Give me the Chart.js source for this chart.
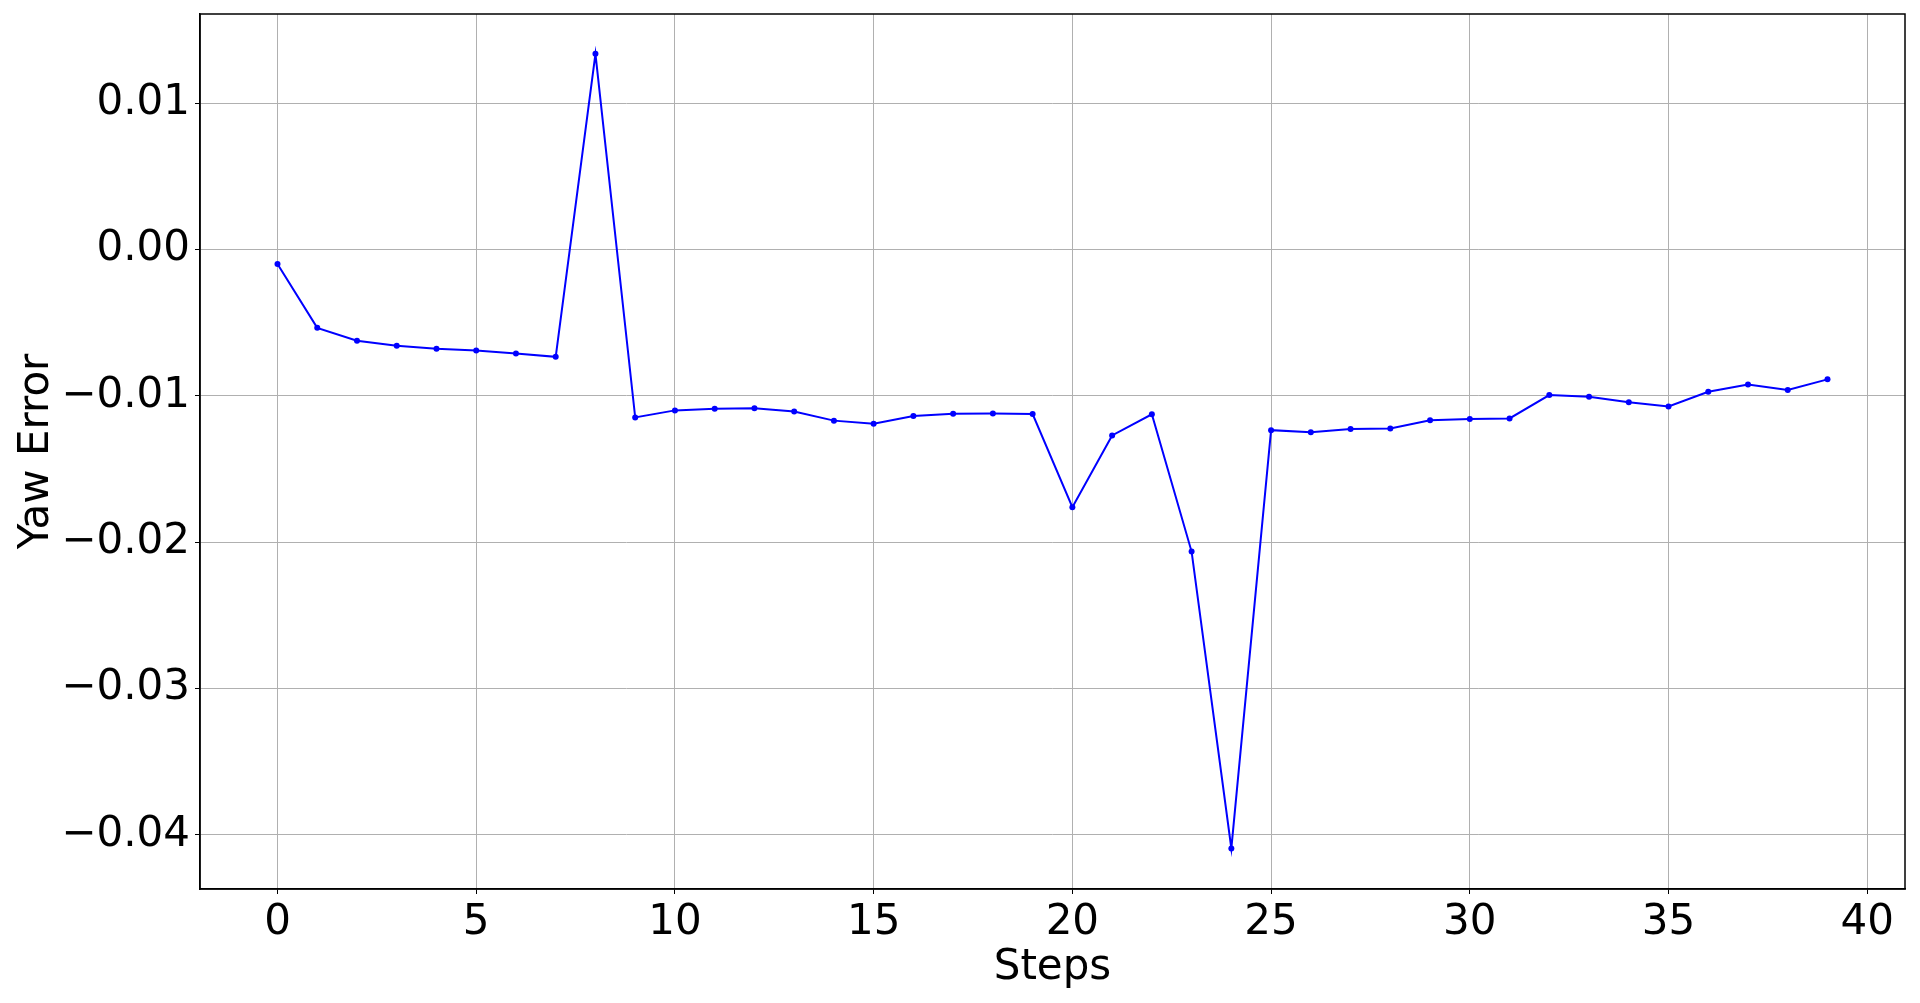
<!DOCTYPE html>
<html>
<head>
<meta charset="utf-8">
<title>Yaw Error</title>
<script src="https://cdn.jsdelivr.net/npm/chart.js@4/dist/chart.umd.min.js"></script>
<style>
  html, body { margin: 0; padding: 0; background: #fff; }
  #wrap { width: 1920px; height: 1003px; position: relative; }
</style>
</head>
<body>
<div id="wrap"><canvas id="chart"></canvas></div>
<script>
// data
const steps = [0, 1, 2, 3, 4, 5, 6, 7, 8, 9,
               10, 11, 12, 13, 14, 15, 16, 17, 18, 19,
               20, 21, 22, 23, 24, 25, 26, 27, 28, 29,
               30, 31, 32, 33, 34, 35, 36, 37, 38, 39];
const yawError = [
  -0.00098, -0.00535, -0.00623, -0.00657, -0.00678, -0.00689, -0.00710, -0.00733, 0.01338, -0.01147,
  -0.01099, -0.01088, -0.01085, -0.01106, -0.01169, -0.01190, -0.01138, -0.01122, -0.01120, -0.01124,
  -0.01761, -0.01270, -0.01126, -0.02064, -0.04093, -0.01234, -0.01249, -0.01226, -0.01222, -0.01167,
  -0.01158, -0.01154, -0.00994, -0.01006, -0.01044, -0.01072, -0.00972, -0.00922, -0.00960, -0.00887
];
const xTicks = [0, 5, 10, 15, 20, 25, 30, 35, 40];
const yTicks = [-0.04, -0.03, -0.02, -0.01, 0.00, 0.01];

const FONT = 'DejaVu Sans';
const GRID = '#b0b0b0';

// matplotlib-style box around the plot area
const frame = {
  id: 'frame',
  afterDraw(chart) {
    const { ctx, chartArea: a } = chart;
    ctx.save();
    ctx.strokeStyle = '#000';
    ctx.lineWidth = 1.5;
    ctx.strokeRect(a.left, a.top, a.right - a.left, a.bottom - a.top);
    ctx.restore();
  }
};

const fmtY = v => (v < 0 ? '\u2212' : '') + Math.abs(v).toFixed(2);

new Chart(document.getElementById('chart'), {
  type: 'line',
  data: {
    datasets: [{
      label: 'Yaw Error',
      data: steps.map((s, i) => ({ x: s, y: yawError[i] })),
      borderColor: '#0000ff',
      backgroundColor: '#0000ff',
      borderWidth: 2,
      pointRadius: 3,
      pointBorderWidth: 0,
      pointBackgroundColor: '#0000ff',
      tension: 0,
      fill: false
    }]
  },
  options: {
    responsive: true,
    maintainAspectRatio: false,
    animation: false,
    layout: { padding: { left: 0, right: 15, top: 14, bottom: 0 } },
    plugins: { legend: { display: false }, tooltip: { enabled: false } },
    scales: {
      x: {
        type: 'linear',
        min: -1.95,
        max: 40.95,
        afterBuildTicks: s => { s.ticks = xTicks.map(v => ({ value: v })); },
        afterFit: s => { s.height = 114; s.paddingLeft = 0; s.paddingRight = 0; },
        grid: { color: GRID, lineWidth: 1, tickColor: '#000', tickLength: 5 },
        border: { color: '#000', width: 1.5 },
        ticks: {
          color: '#000',
          padding: 4,
          maxRotation: 0,
          autoSkip: false,
          font: { family: FONT, size: 42 },
          callback: v => String(v)
        },
        title: {
          display: true,
          text: 'Steps',
          color: '#000',
          font: { family: FONT, size: 42, lineHeight: 1.2 },
          padding: { top: 0, bottom: 10 }
        }
      },
      y: {
        type: 'linear',
        min: -0.0437,
        max: 0.0161,
        afterBuildTicks: s => { s.ticks = yTicks.map(v => ({ value: v })); },
        afterFit: s => { s.width = 200; s.paddingTop = 0; s.paddingBottom = 0; },
        grid: { color: GRID, lineWidth: 1, tickColor: '#000', tickLength: 5 },
        border: { color: '#000', width: 1.5 },
        ticks: {
          color: '#000',
          padding: 5,
          autoSkip: false,
          font: { family: FONT, size: 42 },
          callback: v => fmtY(v)
        },
        title: {
          display: true,
          text: 'Yaw Error',
          color: '#000',
          font: { family: FONT, size: 42, lineHeight: 1.2 },
          padding: { top: 12, bottom: 0 }
        }
      }
    }
  },
  plugins: [frame]
});
</script>
</body>
</html>
